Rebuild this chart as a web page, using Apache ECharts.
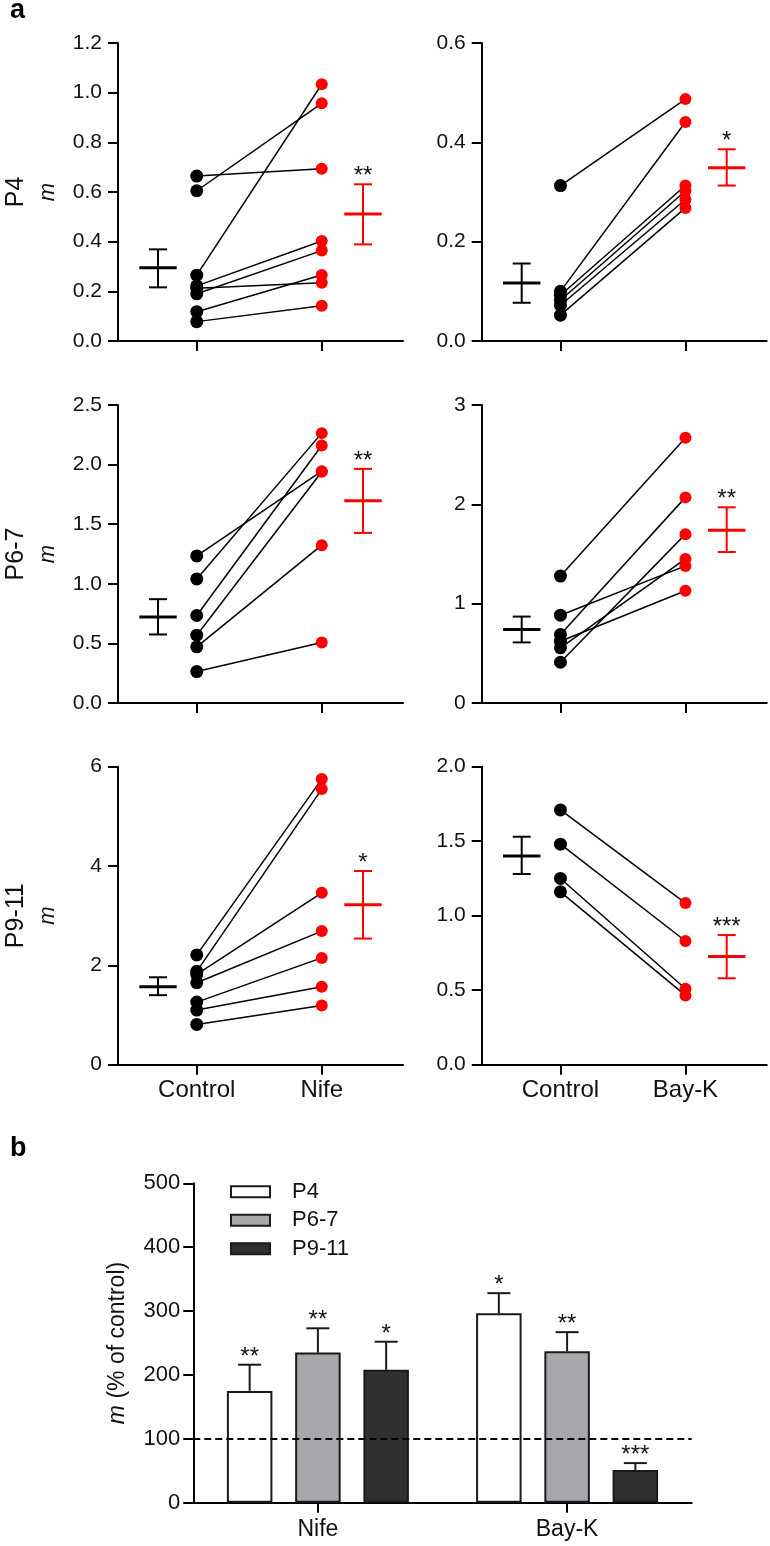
<!DOCTYPE html>
<html><head><meta charset="utf-8">
<script src="https://cdn.jsdelivr.net/npm/echarts@6/dist/echarts.min.js"></script>
<style>html,body{margin:0;padding:0;background:#fff}#c{width:770px;height:1546px}</style>
</head><body><div id="c"></div>
<script>
// ---------- DATA ----------
// panel a: paired values (Control -> drug), one array pair per panel
const p4NifeControl   = [0.664, 0.605, 0.265, 0.222, 0.212, 0.190, 0.118, 0.078];
const p4NifeDrug      = [0.694, 0.957, 1.034, 0.403, 0.235, 0.364, 0.266, 0.142];
const p4BayControl    = [0.313, 0.100, 0.092, 0.082, 0.072, 0.052];
const p4BayDrug       = [0.487, 0.441, 0.313, 0.302, 0.285, 0.268];
const p67NifeControl  = [1.234, 1.041, 0.734, 0.569, 0.471, 0.264];
const p67NifeDrug     = [1.945, 2.264, 2.160, 1.940, 1.324, 0.508];
const p67BayControl   = [1.278, 0.884, 0.689, 0.622, 0.555, 0.410];
const p67BayDrug      = [2.670, 1.380, 2.070, 1.130, 1.450, 1.700];
const p911NifeControl = [2.21, 1.88, 1.82, 1.65, 1.26, 1.10, 0.81];
const p911NifeDrug    = [5.75, 5.55, 3.46, 2.69, 2.15, 1.57, 1.19];
const p911BayControl  = [1.71, 1.48, 1.25, 1.16];
const p911BayDrug     = [1.085, 0.83, 0.51, 0.465];
// mean and SEM [mean, low, high] per panel (order: P4 Nife, P4 BayK, P6-7 Nife, P6-7 BayK, P9-11 Nife, P9-11 BayK)
const controlMeanSem = [[0.295,0.216,0.369],[0.117,0.077,0.156],[0.722,0.575,0.871],[0.74,0.61,0.87],[1.57,1.40,1.76],[1.40,1.28,1.53]];
const drugMeanSem    = [[0.511,0.389,0.631],[0.349,0.313,0.386],[1.696,1.427,1.964],[1.74,1.52,1.97],[3.22,2.54,3.90],[0.726,0.58,0.87]];
const panelSig       = ['**','*','**','**','*','***'];
const rowLabels      = ['P4','P6-7','P9-11'];
const treatmentNames = ['Nife','Bay-K'];
const controlName    = 'Control';
const panelYMax      = [1.2, 0.6, 2.5, 3, 6, 2.0];
const panelYStep     = [0.2, 0.2, 0.5, 1, 2, 0.5];
const panelYDecimals = [1, 1, 1, 0, 0, 1];
// panel b
const barCategories = ['Nife','Bay-K'];
const barSeriesNames = ['P4','P6-7','P9-11'];
const barP4   = [175, 296.5];
const barP67  = [235, 237];
const barP911 = [208, 51];
const errP4   = [216, 328];
const errP67  = [273, 267];
const errP911 = [252, 62];
const sigP4   = ['**','*'];
const sigP67  = ['**','**'];
const sigP911 = ['*','***'];
const barYTicks = [0, 100, 200, 300, 400, 500];

// ---------- STYLE / LAYOUT ----------
const FONT = '"Liberation Sans", Arial, Helvetica, sans-serif';
const RED = '#ff0000';
const TXT = '#111';
const AX = {color:'#000', width:2};
const colLeft = [118, 481.7], rowTop = [43, 405, 766.7], PW = 285, PH = 298;
const X_CTRL = 1, X_DRUG = 2, X_MEAN_CTRL = 0.69, X_MEAN_DRUG = 2.33;
const MEAN_HALF = 18.7, CAP_HALF = 9;

const pairs = [
  [p4NifeControl, p4NifeDrug],[p4BayControl, p4BayDrug],
  [p67NifeControl, p67NifeDrug],[p67BayControl, p67BayDrug],
  [p911NifeControl, p911NifeDrug],[p911BayControl, p911BayDrug]
];

const grid = [], xAxis = [], yAxis = [], series = [];

pairs.forEach(([ctrl, drug], k) => {
  const r = Math.floor(k/2), c = k % 2;
  grid.push({left: colLeft[c], top: rowTop[r], width: PW, height: PH, outerBoundsMode: 'none', containLabel: false});
  xAxis.push({
    gridIndex: k, type: 'value', min: 0.37, max: 2.65,
    axisLine: {show: true, onZero: false, lineStyle: AX},
    axisTick: {show: true, customValues: [X_CTRL, X_DRUG], length: 10, lineStyle: AX},
    axisLabel: {show: r === 2, customValues: [X_CTRL, X_DRUG], fontSize: 24, color: TXT, fontFamily: FONT, margin: 14,
      formatter: v => (Math.abs(v - X_CTRL) < 1e-6 ? controlName : treatmentNames[c])},
    splitLine: {show: false}
  });
  const dec = panelYDecimals[k];
  yAxis.push({
    gridIndex: k, type: 'value', min: 0, max: panelYMax[k], interval: panelYStep[k],
    axisLine: {show: true, onZero: false, lineStyle: AX},
    axisTick: {show: true, length: 10, lineStyle: AX},
    axisLabel: {fontSize: 21, color: TXT, fontFamily: FONT, margin: 16, formatter: v => v.toFixed(dec)},
    splitLine: {show: false}
  });
  // connecting lines
  series.push({
    type: 'custom', xAxisIndex: k, yAxisIndex: k, z: 1,
    data: ctrl.map((v, i) => [v, drug[i]]),
    renderItem: (params, api) => {
      const a = api.coord([X_CTRL, api.value(0)]), b = api.coord([X_DRUG, api.value(1)]);
      return {type: 'line', shape: {x1: a[0], y1: a[1], x2: b[0], y2: b[1]}, style: {stroke: '#000', lineWidth: 1.5}};
    },
    encode: {x: [], y: [0, 1]}
  });
  series.push({type: 'scatter', xAxisIndex: k, yAxisIndex: k, z: 3, symbol: 'circle', symbolSize: 13,
    itemStyle: {color: '#000', opacity: 1}, data: ctrl.map(v => [X_CTRL, v])});
  series.push({type: 'scatter', xAxisIndex: k, yAxisIndex: k, z: 3, symbol: 'circle', symbolSize: 12,
    itemStyle: {color: RED, opacity: 1}, data: drug.map(v => [X_DRUG, v])});
  // mean +- SEM
  const sig = panelSig[k];
  const cm = controlMeanSem[k], dm = drugMeanSem[k];
  series.push({
    type: 'custom', xAxisIndex: k, yAxisIndex: k, z: 4,
    data: [[X_MEAN_CTRL, cm[0], cm[1], cm[2], 0], [X_MEAN_DRUG, dm[0], dm[1], dm[2], 1]],
    renderItem: (params, api) => {
      const x = api.value(0), isDrug = api.value(4) === 1;
      const col = isDrug ? RED : '#000';
      const pm = api.coord([x, api.value(1)]), pl = api.coord([x, api.value(2)]), ph = api.coord([x, api.value(3)]);
      const cx = pm[0];
      const ch = [
        {type: 'line', shape: {x1: cx - MEAN_HALF, y1: pm[1], x2: cx + MEAN_HALF, y2: pm[1]}, style: {stroke: col, lineWidth: 3}},
        {type: 'line', shape: {x1: cx, y1: pl[1], x2: cx, y2: ph[1]}, style: {stroke: col, lineWidth: 2}},
        {type: 'line', shape: {x1: cx - CAP_HALF, y1: pl[1], x2: cx + CAP_HALF, y2: pl[1]}, style: {stroke: col, lineWidth: 2}},
        {type: 'line', shape: {x1: cx - CAP_HALF, y1: ph[1], x2: cx + CAP_HALF, y2: ph[1]}, style: {stroke: col, lineWidth: 2}}
      ];
      if (isDrug) ch.push({type: 'text', x: cx, y: ph[1] - 7.5,
        style: {text: sig, fill: TXT, fontSize: 24, fontFamily: FONT, align: 'center', verticalAlign: 'middle'}});
      return {type: 'group', children: ch};
    },
    encode: {x: 0, y: [1, 2, 3]}
  });
});

// ---------- PANEL b ----------
const BK = 6;
const BAR_W = 45.5, BAR_GAP = 0.5;
grid.push({left: 193.3, top: 1183.3, width: 498.4, height: 319.4, outerBoundsMode: 'none', containLabel: false});
xAxis.push({
  gridIndex: BK, type: 'category', data: barCategories, boundaryGap: true,
  axisLine: {show: true, onZero: false, lineStyle: AX},
  axisTick: {show: true, alignWithLabel: true, length: 10, lineStyle: AX},
  axisLabel: {fontSize: 23, color: TXT, fontFamily: FONT, margin: 15},
  splitLine: {show: false}
});
yAxis.push({
  gridIndex: BK, type: 'value', min: barYTicks[0], max: barYTicks[barYTicks.length-1], interval: barYTicks[1]-barYTicks[0],
  axisLine: {show: true, onZero: false, lineStyle: AX},
  axisTick: {show: true, length: 10, lineStyle: AX},
  axisLabel: {fontSize: 22, color: TXT, fontFamily: FONT, margin: 13},
  splitLine: {show: false}
});
const barVals = [barP4, barP67, barP911], errVals = [errP4, errP67, errP911], sigVals = [sigP4, sigP67, sigP911];
const barFill = ['#ffffff', '#a7a7ab', '#303030'];
barVals.forEach((vals, s) => {
  const ser = {
    type: 'bar', name: barSeriesNames[s], xAxisIndex: BK, yAxisIndex: BK, data: vals,
    barWidth: BAR_W, barGap: (BAR_GAP*100) + '%', z: 2,
    itemStyle: {color: barFill[s], borderColor: '#1a1a1a', borderWidth: 2, borderRadius: 0, opacity: 1}
  };
  if (s === 0) ser.markLine = {silent: true, symbol: 'none', label: {show: false}, z: 5,
    lineStyle: {type: [7, 4], color: '#000', width: 2}, data: [{yAxis: 100}]};
  series.push(ser);
});
series.push({
  type: 'custom', xAxisIndex: BK, yAxisIndex: BK, z: 6,
  data: (function(){ const d = []; barVals.forEach((vals, s) => vals.forEach((v, i) => d.push([i, v, errVals[s][i], s]))); return d; })(),
  renderItem: (params, api) => {
    const i = api.value(0), s = api.value(3);
    const off = (s - 1) * BAR_W * (1 + BAR_GAP);
    const pb = api.coord([i, api.value(1)]), pe = api.coord([i, api.value(2)]);
    const cx = pb[0] + off;
    return {type: 'group', children: [
      {type: 'line', shape: {x1: cx, y1: pb[1], x2: cx, y2: pe[1]}, style: {stroke: '#1a1a1a', lineWidth: 2}},
      {type: 'line', shape: {x1: cx - 11.5, y1: pe[1], x2: cx + 11.5, y2: pe[1]}, style: {stroke: '#1a1a1a', lineWidth: 2}},
      {type: 'text', x: cx, y: pe[1] - 7.5, style: {text: sigVals[s][i], fill: TXT, fontSize: 24, fontFamily: FONT, align: 'center', verticalAlign: 'middle'}}
    ]};
  },
  encode: {x: 0, y: [1, 2]}
});

// ---------- TEXT LABELS ----------
const graphic = [
  {type: 'text', left: 10, top: -3, style: {text: 'a', font: 'bold 27px ' + FONT, fill: '#000'}},
  {type: 'text', left: 10, top: 1135, style: {text: 'b', font: 'bold 27px ' + FONT, fill: '#000'}},
  {type: 'text', x: 118, y: 1343, rotation: Math.PI/2,
    style: {text: '{i|m} (% of control)', fill: TXT, fontSize: 23, fontFamily: FONT, align: 'center', verticalAlign: 'middle',
      rich: {i: {fontStyle: 'italic', fontSize: 23, fontFamily: FONT, fill: TXT}}}}
];
rowLabels.forEach((t, r) => {
  const cy = rowTop[r] + PH/2;
  graphic.push({type: 'text', x: 16, y: cy, rotation: Math.PI/2,
    style: {text: t, fill: TXT, fontSize: 25, fontFamily: FONT, align: 'center', verticalAlign: 'middle'}});
  graphic.push({type: 'text', x: 48, y: cy, rotation: Math.PI/2,
    style: {text: 'm', fill: TXT, fontSize: 22, fontStyle: 'italic', fontFamily: FONT, align: 'center', verticalAlign: 'middle'}});
});

const chart = echarts.init(document.getElementById('c'), null, {renderer: 'canvas'});
chart.setOption({
  animation: false,
  backgroundColor: '#fff',
  textStyle: {fontFamily: FONT},
  grid, xAxis, yAxis, series, graphic,
  legend: {
    data: barSeriesNames.map(n => ({name: n, icon: 'rect'})), orient: 'vertical', left: 230, top: 1180.7, padding: 0,
    itemWidth: 39, itemHeight: 11, itemGap: 6.5, selectedMode: false,
    textStyle: {fontSize: 22, color: TXT, fontFamily: FONT, lineHeight: 22, padding: [0, 0, 0, 17]}
  }
});
</script></body></html>
